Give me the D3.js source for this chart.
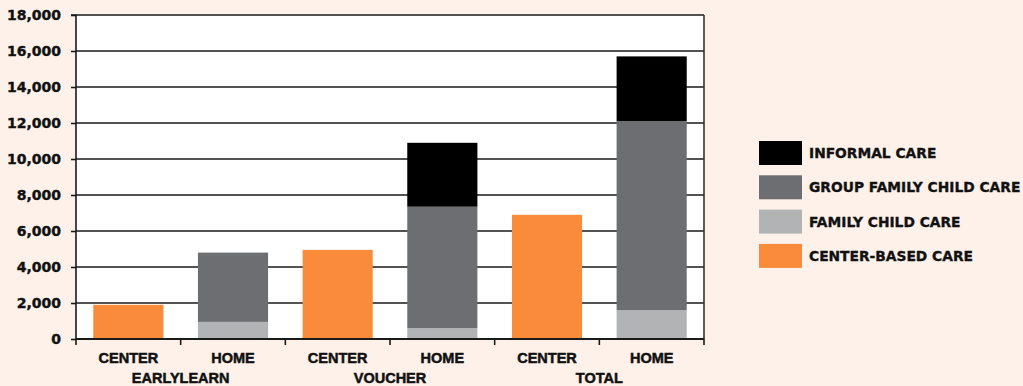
<!DOCTYPE html>
<html><head><meta charset="utf-8">
<script src="https://cdn.jsdelivr.net/npm/d3@7"></script>
<style>
html,body{margin:0;padding:0;background:#fef1ea;}
svg{display:block;}
</style></head>
<body>
<svg id="c" width="1023" height="386"></svg>
<script>
const groups = ["EARLYLEARN", "VOUCHER", "TOTAL"];
const categories = ["CENTER", "HOME", "CENTER", "HOME", "CENTER", "HOME"];
const seriesNames = ["CENTER-BASED CARE", "FAMILY CHILD CARE", "GROUP FAMILY CHILD CARE", "INFORMAL CARE"];
const centerBased = [1900, 0, 4950, 0, 6900, 0];
const familyCare = [0, 950, 0, 600, 0, 1600];
const groupFamilyCare = [0, 3850, 0, 6750, 0, 10500];
const informalCare = [0, 0, 0, 3550, 0, 3600];
const yTicks = [0, 2000, 4000, 6000, 8000, 10000, 12000, 14000, 16000, 18000];
const colors = ["#f98b3b", "#b1b3b5", "#6d6e71", "#000000"];

const svg = d3.select("#c");
const L = 76, R = 704, T = 15, B = 339;
const idx = d3.range(categories.length);
const x = d3.scaleBand().domain(idx).range([L, R]).padding(0);
const y = d3.scaleLinear().domain([0, 18000]).range([B, T]);

svg.append("rect").attr("x", L).attr("y", T).attr("width", R - L).attr("height", B - T).attr("fill", "#fff");

// gridlines
svg.append("g").selectAll("line").data(yTicks.filter(d => d > 0)).join("line")
  .attr("x1", L).attr("x2", R).attr("y1", d => y(d)).attr("y2", d => y(d))
  .attr("stroke", "#1a1a1a").attr("stroke-width", 1.6);

// stacked bars
const rows = idx.map(i => ({i, v: [centerBased[i], familyCare[i], groupFamilyCare[i], informalCare[i]]}));
const stack = d3.stack().keys([0, 1, 2, 3]).value((d, k) => d.v[k]);
const stacked = stack(rows);
const bw = x.bandwidth() * 0.67;
stacked.forEach((layer, k) => {
  svg.append("g").selectAll("rect").data(layer.filter(d => d[1] > d[0])).join("rect")
    .attr("x", d => x(d.data.i) + (x.bandwidth() - bw) / 2)
    .attr("width", bw)
    .attr("y", d => y(d[1]))
    .attr("height", d => y(d[0]) - y(d[1]))
    .attr("fill", colors[k]);
});

// y axis
const yAxis = d3.axisLeft(y).tickValues(yTicks).tickSize(5).tickPadding(10).tickFormat(d3.format(","));
const ya = svg.append("g").attr("transform", `translate(${L},0)`).call(yAxis);
ya.select(".domain").attr("stroke", "#1a1a1a").attr("stroke-width", 1.6).attr("d", `M-5,${T}H0V${B}`);
ya.selectAll(".tick line").attr("stroke", "#1a1a1a").attr("stroke-width", 1.6);
ya.selectAll(".tick text").attr("font-family", "DejaVu Sans").attr("font-weight", "bold").attr("font-size", 14).attr("fill", "#111")
  .attr("stroke", "#111").attr("stroke-width", 0.4);

// right border
svg.append("line").attr("x1", R).attr("x2", R).attr("y1", T).attr("y2", B).attr("stroke", "#333").attr("stroke-width", 1.6);

// x axis
const xa = svg.append("g").attr("transform", `translate(0,${B})`);
xa.append("line").attr("x1", L).attr("x2", R).attr("stroke", "#1a1a1a").attr("stroke-width", 2);
xa.selectAll("line.t").data(d3.range(categories.length + 1)).join("line").attr("class", "t")
  .attr("x1", d => L + d * x.step()).attr("x2", d => L + d * x.step()).attr("y1", 0).attr("y2", 6)
  .attr("stroke", "#1a1a1a").attr("stroke-width", 1.6);
xa.selectAll("text.c").data(idx).join("text").attr("class", "c")
  .attr("x", d => x(d) + x.bandwidth() / 2).attr("y", 24)
  .attr("text-anchor", "middle").attr("font-family", "Liberation Sans, Arial").attr("font-weight", "bold").attr("font-size", 14.5).attr("fill", "#111")
  .attr("stroke", "#111").attr("stroke-width", 0.5)
  .text(d => categories[d]);
xa.selectAll("text.g").data(groups).join("text").attr("class", "g")
  .attr("x", (d, i) => L + (2 * i + 1) * x.step()).attr("y", 44)
  .attr("text-anchor", "middle").attr("font-family", "Liberation Sans, Arial").attr("font-weight", "bold").attr("font-size", 14.5).attr("fill", "#111")
  .attr("stroke", "#111").attr("stroke-width", 0.5)
  .text(d => d);

// legend
const legendOrder = [3, 2, 1, 0];
const lg = svg.append("g");
legendOrder.forEach((k, j) => {
  const ly = 141 + j * 34.3;
  lg.append("rect").attr("x", 759).attr("y", ly).attr("width", 43).attr("height", 24).attr("fill", colors[k]);
  lg.append("text").attr("x", 809).attr("y", ly + 12).attr("dy", "0.36em")
    .attr("font-family", "DejaVu Sans").attr("font-weight", "bold").attr("font-size", 13.8).attr("fill", "#111")
    .attr("stroke", "#111").attr("stroke-width", 0.35)
    .text(seriesNames[k]);
});
</script>
</body></html>
